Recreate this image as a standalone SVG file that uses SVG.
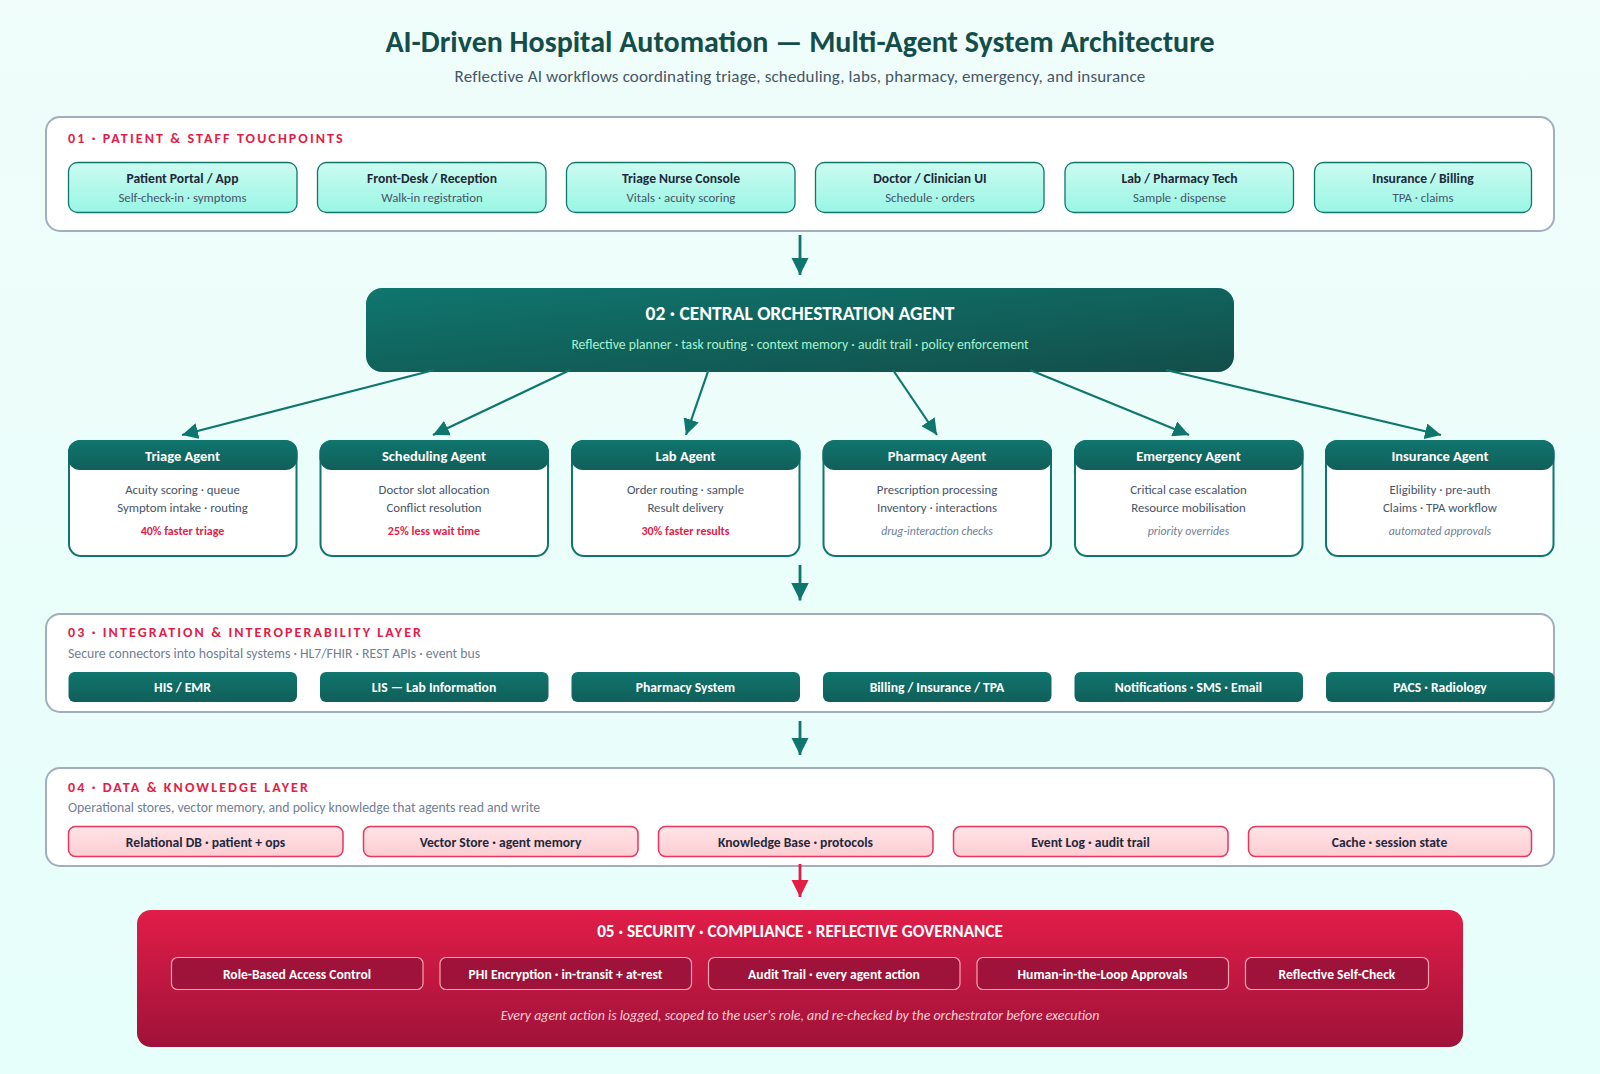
<svg xmlns="http://www.w3.org/2000/svg" width="1600" height="1074" viewBox="0 0 1600 1074">
<style>
text{font-family:"Carlito","Calibri","Lato","Liberation Sans",sans-serif;text-anchor:middle}
.title{font-size:30px;font-weight:700;fill:#134e4a}
.subtitle{font-size:17px;fill:#475569;letter-spacing:.15px}
.panel{fill:#fff;stroke:#a0aec0;stroke-width:2}
.sec{font-size:14px;font-weight:700;fill:#e11d48;letter-spacing:2.1px;text-anchor:start}
.secsub{font-size:13.75px;fill:#718096;text-anchor:start}
.card{fill:url(#mint);stroke:#0f766e;stroke-width:1.3}
.ct{font-size:13.6px;font-weight:700;fill:#1e293b}
.cs{font-size:12.8px;fill:#475569}
.body{fill:#fff;stroke:#0f766e;stroke-width:2}
.head{fill:url(#teal)}
.ht{font-size:14.5px;font-weight:700;fill:#fff}
.bl{font-size:12.8px;fill:#475569}
.win{font-size:12px;font-weight:700;fill:#e11d48}
.note{font-size:11.8px;font-style:italic;fill:#718096}
.pt{font-size:13.6px;font-weight:700;fill:#fff}
.pink{fill:url(#pink);stroke:#e8365d;stroke-width:1.5}
.dt{font-size:13.6px;font-weight:700;fill:#1e293b}
.sp{fill:#9f1239;stroke:#fda4af;stroke-width:1.2}
.conn{fill:none;stroke:#0f766e;stroke-width:2.2;marker-end:url(#ah)}
.v{stroke-width:2.8;marker-end:url(#ahv)}
.r{stroke:#e11d48;marker-end:url(#ahr)}
</style>
<defs>
<linearGradient id="bg" x1="0" y1="0" x2="0" y2="1"><stop offset="0" stop-color="#f0fdfa"/><stop offset="1" stop-color="#e6fffa"/></linearGradient>
<linearGradient id="mint" x1="0" y1="0" x2="0" y2="1"><stop offset="0" stop-color="#ccfbf1"/><stop offset="1" stop-color="#99f6e4"/></linearGradient>
<linearGradient id="teal" x1="0" y1="0" x2="0" y2="1"><stop offset="0" stop-color="#0f766e"/><stop offset="1" stop-color="#115e59"/></linearGradient>
<linearGradient id="orch" x1="0" y1="0" x2="1" y2="1"><stop offset="0" stop-color="#0f766e"/><stop offset="1" stop-color="#134e4a"/></linearGradient>
<linearGradient id="pink" x1="0" y1="0" x2="0" y2="1"><stop offset="0" stop-color="#ffe4e6"/><stop offset="1" stop-color="#fecdd3"/></linearGradient>
<linearGradient id="crim" x1="0" y1="0" x2="0" y2="1"><stop offset="0" stop-color="#e11d48"/><stop offset="1" stop-color="#9f1239"/></linearGradient>
<marker id="ah" viewBox="0 0 10 10" refX="10" refY="5" markerUnits="userSpaceOnUse" markerWidth="16" markerHeight="16" orient="auto"><path d="M0 0L10 5L0 10z" fill="#0f766e"/></marker>
<marker id="ahv" viewBox="0 0 10 10" refX="10" refY="5" markerUnits="userSpaceOnUse" markerWidth="17.500" markerHeight="17.500" orient="auto"><path d="M0 0L10 5L0 10z" fill="#0f766e"/></marker>
<marker id="ahr" viewBox="0 0 10 10" refX="10" refY="5" markerUnits="userSpaceOnUse" markerWidth="17.500" markerHeight="17.500" orient="auto"><path d="M0 0L10 5L0 10z" fill="#e11d48"/></marker>
</defs>
<rect width="1600" height="1074" fill="url(#bg)"/>
<text class="title" x="800" y="52">AI-Driven Hospital Automation — Multi-Agent System Architecture</text>
<text class="subtitle" x="800" y="82">Reflective AI workflows coordinating triage, scheduling, labs, pharmacy, emergency, and insurance</text>

<g id="layer-01">
<rect class="panel" x="46" y="117" width="1508" height="114" rx="14"/>
<text class="sec" x="68" y="142.500">01 · PATIENT &amp; STAFF TOUCHPOINTS</text>
</g>
<g id="tp-portal"><rect class="card" x="68.500" y="162.500" width="228.500" height="50" rx="9"/><text class="ct" x="182.500" y="182.500">Patient Portal / App</text><text class="cs" x="182.500" y="202">Self-check-in · symptoms</text></g>
<g id="tp-frontdesk"><rect class="card" x="317.500" y="162.500" width="228.500" height="50" rx="9"/><text class="ct" x="432" y="182.500">Front-Desk / Reception</text><text class="cs" x="432" y="202">Walk-in registration</text></g>
<g id="tp-triage"><rect class="card" x="566.500" y="162.500" width="228.500" height="50" rx="9"/><text class="ct" x="681" y="182.500">Triage Nurse Console</text><text class="cs" x="681" y="202">Vitals · acuity scoring</text></g>
<g id="tp-doctor"><rect class="card" x="815.500" y="162.500" width="228.500" height="50" rx="9"/><text class="ct" x="930" y="182.500">Doctor / Clinician UI</text><text class="cs" x="930" y="202">Schedule · orders</text></g>
<g id="tp-lab"><rect class="card" x="1065" y="162.500" width="228.500" height="50" rx="9"/><text class="ct" x="1179.500" y="182.500">Lab / Pharmacy Tech</text><text class="cs" x="1179.500" y="202">Sample · dispense</text></g>
<g id="tp-insurance"><rect class="card" x="1314.500" y="162.500" width="217" height="50" rx="9"/><text class="ct" x="1423" y="182.500">Insurance / Billing</text><text class="cs" x="1423" y="202">TPA · claims</text></g>

<g id="orchestrator">
<rect x="366" y="288" width="868" height="84" rx="16" fill="url(#orch)"/>
<text x="800" y="320" font-size="19.500" font-weight="700" fill="#fff">02 · CENTRAL ORCHESTRATION AGENT</text>
<text x="800" y="349" font-size="13.700" fill="#a7f3d0">Reflective planner · task routing · context memory · audit trail · policy enforcement</text>
</g>

<g id="agent-triage"><rect class="body" x="69" y="441" width="227.500" height="115" rx="12"/><rect class="head" x="68" y="440" width="229.500" height="30" rx="12"/><text class="ht" x="182.500" y="460.500">Triage Agent</text><text class="bl" x="182.500" y="494">Acuity scoring · queue</text><text class="bl" x="182.500" y="512">Symptom intake · routing</text><text class="win" x="182.500" y="535">40% faster triage</text></g>
<g id="agent-scheduling"><rect class="body" x="320.500" y="441" width="227.500" height="115" rx="12"/><rect class="head" x="319.500" y="440" width="229.500" height="30" rx="12"/><text class="ht" x="434" y="460.500">Scheduling Agent</text><text class="bl" x="434" y="494">Doctor slot allocation</text><text class="bl" x="434" y="512">Conflict resolution</text><text class="win" x="434" y="535">25% less wait time</text></g>
<g id="agent-lab"><rect class="body" x="572" y="441" width="227.500" height="115" rx="12"/><rect class="head" x="571" y="440" width="229.500" height="30" rx="12"/><text class="ht" x="685.500" y="460.500">Lab Agent</text><text class="bl" x="685.500" y="494">Order routing · sample</text><text class="bl" x="685.500" y="512">Result delivery</text><text class="win" x="685.500" y="535">30% faster results</text></g>
<g id="agent-pharmacy"><rect class="body" x="823.500" y="441" width="227.500" height="115" rx="12"/><rect class="head" x="822.500" y="440" width="229.500" height="30" rx="12"/><text class="ht" x="937" y="460.500">Pharmacy Agent</text><text class="bl" x="937" y="494">Prescription processing</text><text class="bl" x="937" y="512">Inventory · interactions</text><text class="note" x="937" y="535">drug-interaction checks</text></g>
<g id="agent-emergency"><rect class="body" x="1075" y="441" width="227.500" height="115" rx="12"/><rect class="head" x="1074" y="440" width="229.500" height="30" rx="12"/><text class="ht" x="1188.500" y="460.500">Emergency Agent</text><text class="bl" x="1188.500" y="494">Critical case escalation</text><text class="bl" x="1188.500" y="512">Resource mobilisation</text><text class="note" x="1188.500" y="535">priority overrides</text></g>
<g id="agent-insurance"><rect class="body" x="1326" y="441" width="227.500" height="115" rx="12"/><rect class="head" x="1325" y="440" width="229.500" height="30" rx="12"/><text class="ht" x="1440" y="460.500">Insurance Agent</text><text class="bl" x="1440" y="494">Eligibility · pre-auth</text><text class="bl" x="1440" y="512">Claims · TPA workflow</text><text class="note" x="1440" y="535">automated approvals</text></g>

<g id="layer-03">
<rect class="panel" x="46" y="614" width="1508" height="98" rx="14"/>
<text class="sec" x="68" y="637">03 · INTEGRATION &amp; INTEROPERABILITY LAYER</text>
<text class="secsub" x="68" y="658">Secure connectors into hospital systems · HL7/FHIR · REST APIs · event bus</text>
</g>
<g id="sys-his"><rect class="head" x="68.500" y="672" width="228.500" height="30" rx="6"/><text class="pt" x="182.500" y="692">HIS / EMR</text></g>
<g id="sys-lis"><rect class="head" x="320" y="672" width="228.500" height="30" rx="6"/><text class="pt" x="434" y="692">LIS — Lab Information</text></g>
<g id="sys-pharmacy"><rect class="head" x="571.500" y="672" width="228.500" height="30" rx="6"/><text class="pt" x="685.500" y="692">Pharmacy System</text></g>
<g id="sys-billing"><rect class="head" x="823" y="672" width="228.500" height="30" rx="6"/><text class="pt" x="937" y="692">Billing / Insurance / TPA</text></g>
<g id="sys-notify"><rect class="head" x="1074.500" y="672" width="228.500" height="30" rx="6"/><text class="pt" x="1188.500" y="692">Notifications · SMS · Email</text></g>
<g id="sys-pacs"><rect class="head" x="1326" y="672" width="228.500" height="30" rx="6"/><text class="pt" x="1440" y="692">PACS · Radiology</text></g>

<g id="layer-04">
<rect class="panel" x="46" y="768" width="1508" height="98" rx="14"/>
<text class="sec" x="68" y="792">04 · DATA &amp; KNOWLEDGE LAYER</text>
<text class="secsub" x="68" y="812">Operational stores, vector memory, and policy knowledge that agents read and write</text>
</g>
<g id="data-db"><rect class="pink" x="68.500" y="826.500" width="274.500" height="30" rx="7"/><text class="dt" x="205.500" y="846.500">Relational DB · patient + ops</text></g>
<g id="data-vector"><rect class="pink" x="363.500" y="826.500" width="274.500" height="30" rx="7"/><text class="dt" x="500.500" y="846.500">Vector Store · agent memory</text></g>
<g id="data-kb"><rect class="pink" x="658.500" y="826.500" width="274.500" height="30" rx="7"/><text class="dt" x="795.500" y="846.500">Knowledge Base · protocols</text></g>
<g id="data-log"><rect class="pink" x="953.500" y="826.500" width="274.500" height="30" rx="7"/><text class="dt" x="1090.500" y="846.500">Event Log · audit trail</text></g>
<g id="data-cache"><rect class="pink" x="1248.500" y="826.500" width="283" height="30" rx="7"/><text class="dt" x="1389.500" y="846.500">Cache · session state</text></g>

<g id="security">
<rect x="137" y="910" width="1326" height="137" rx="14" fill="url(#crim)"/>
<text x="800" y="937" font-size="17.200" font-weight="700" fill="#fff">05 · SECURITY · COMPLIANCE · REFLECTIVE GOVERNANCE</text>
<text x="800" y="1020" font-size="13.900" font-style="italic" fill="#fecdd3">Every agent action is logged, scoped to the user's role, and re-checked by the orchestrator before execution</text>
</g>
<g id="sec-rbac"><rect class="sp" x="171.500" y="957.500" width="251.500" height="32" rx="6"/><text class="pt" x="297" y="979">Role-Based Access Control</text></g>
<g id="sec-phi"><rect class="sp" x="440" y="957.500" width="251.500" height="32" rx="6"/><text class="pt" x="565.500" y="979">PHI Encryption · in-transit + at-rest</text></g>
<g id="sec-audit"><rect class="sp" x="708.500" y="957.500" width="251.500" height="32" rx="6"/><text class="pt" x="834" y="979">Audit Trail · every agent action</text></g>
<g id="sec-hitl"><rect class="sp" x="977" y="957.500" width="251.500" height="32" rx="6"/><text class="pt" x="1102.500" y="979">Human-in-the-Loop Approvals</text></g>
<g id="sec-check"><rect class="sp" x="1245.500" y="957.500" width="183" height="32" rx="6"/><text class="pt" x="1337" y="979">Reflective Self-Check</text></g>

<g id="connectors">
<path class="conn v" d="M800 235V275"/>
<path class="conn" d="M434 370L182 435"/>
<path class="conn" d="M570 370L433 435"/>
<path class="conn" d="M708.500 370L686 435"/>
<path class="conn" d="M893 370L937 435"/>
<path class="conn" d="M1030 370L1189 435"/>
<path class="conn" d="M1166 370L1441 435"/>
<path class="conn v" d="M800 565V600.500"/>
<path class="conn v" d="M800 721V755"/>
<path class="conn v r" d="M800 864V897"/>
</g>
</svg>
